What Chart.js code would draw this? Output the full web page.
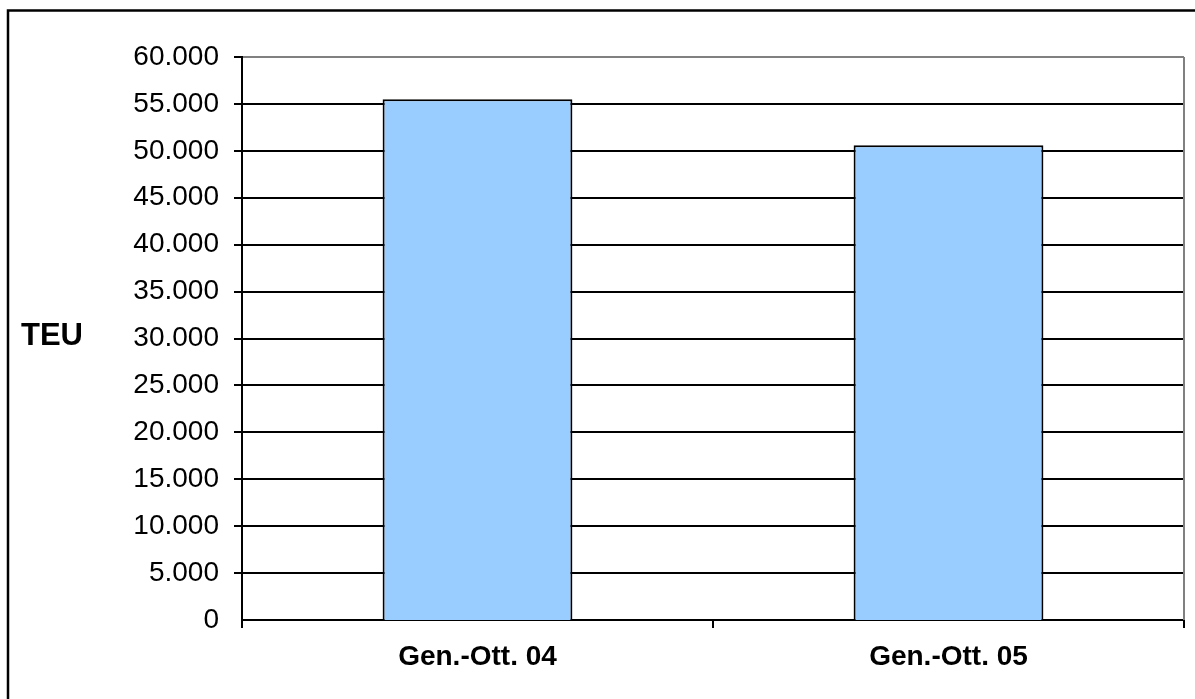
<!DOCTYPE html>
<html>
<head>
<meta charset="utf-8">
<script src="https://cdn.jsdelivr.net/npm/chart.js@4.4.1/dist/chart.umd.min.js"></script>
<style>
  html, body { margin: 0; padding: 0; background: #fff; }
  #wrap { position: relative; width: 1195px; height: 699px; }
</style>
</head>
<body>
<div id="wrap"><canvas id="c" width="1195" height="699"></canvas></div>
<script>
// Container throughput, January-October, in TEU
const categories = ['Gen.-Ott. 04', 'Gen.-Ott. 05'];
const teuValues = [55500, 50600];
const yTickLabels = ['0', '5.000', '10.000', '15.000', '20.000', '25.000', '30.000',
                     '35.000', '40.000', '45.000', '50.000', '55.000', '60.000'];
const axisTitle = 'TEU';

const FONT = "'Liberation Sans', Arial, sans-serif";

// Frame around the whole chart, grey plot-area edge and the horizontal axis title
const framePlugin = {
  id: 'frame',
  beforeDraw(chart) {
    const ctx = chart.ctx;
    ctx.save();
    ctx.fillStyle = '#fff';
    ctx.fillRect(0, 0, chart.width, chart.height);
    ctx.restore();
  },
  afterDraw(chart) {
    const ctx = chart.ctx;
    const a = chart.chartArea;
    ctx.save();
    // outer frame
    ctx.strokeStyle = '#000';
    ctx.lineWidth = 2.5;
    ctx.beginPath();
    ctx.moveTo(8, chart.height + 5);
    ctx.lineTo(8, 10.5);
    ctx.lineTo(chart.width + 5, 10.5);
    ctx.stroke();
    // right edge of plot area
    ctx.strokeStyle = '#808080';
    ctx.lineWidth = 2;
    ctx.beginPath();
    ctx.moveTo(a.right, a.top);
    ctx.lineTo(a.right, a.bottom);
    ctx.stroke();
    // axis title
    ctx.fillStyle = '#000';
    ctx.font = 'bold 31px ' + FONT;
    ctx.textAlign = 'left';
    ctx.textBaseline = 'alphabetic';
    ctx.fillText(axisTitle, 21, 345);
    ctx.restore();
  }
};

new Chart(document.getElementById('c'), {
  type: 'bar',
  data: {
    labels: categories,
    datasets: [{
      data: teuValues,
      backgroundColor: '#99CCFF',
      borderColor: '#000',
      borderWidth: 2,
      borderSkipped: 'bottom',
      categoryPercentage: 1.0,
      barPercentage: 0.403
    }]
  },
  options: {
    responsive: false,
    animation: false,
    devicePixelRatio: 1,
    layout: { padding: { left: 0, top: 57, right: 11, bottom: 0 } },
    plugins: { legend: { display: false }, tooltip: { enabled: false } },
    scales: {
      x: {
        offset: true,
        grid: {
          display: true,
          offset: true,
          drawOnChartArea: false,
          drawTicks: true,
          tickLength: 8,
          color: '#000',
          tickColor: '#000',
          lineWidth: 2
        },
        border: { display: true, color: '#000', width: 2 },
        ticks: {
          color: '#000',
          padding: 12,
          maxRotation: 0,
          font: { family: FONT, size: 28, weight: 'bold' }
        },
        afterFit(scale) { scale.height = 79; }
      },
      y: {
        min: 0,
        max: 60000,
        grid: {
          drawTicks: true,
          tickLength: 8,
          color: (c) => (c.tick && c.tick.value === 60000 ? '#808080' : '#000'),
          tickColor: '#000',
          lineWidth: (c) => (c.tick && c.tick.value === 0 ? 0 : 2)
        },
        border: { display: true, color: '#000', width: 2 },
        ticks: {
          stepSize: 5000,
          color: '#000',
          padding: 15,
          font: { family: FONT, size: 28 },
          callback: (value, index) => yTickLabels[index]
        },
        afterFit(scale) { scale.width = 242; }
      }
    }
  },
  plugins: [framePlugin]
});
</script>
</body>
</html>
